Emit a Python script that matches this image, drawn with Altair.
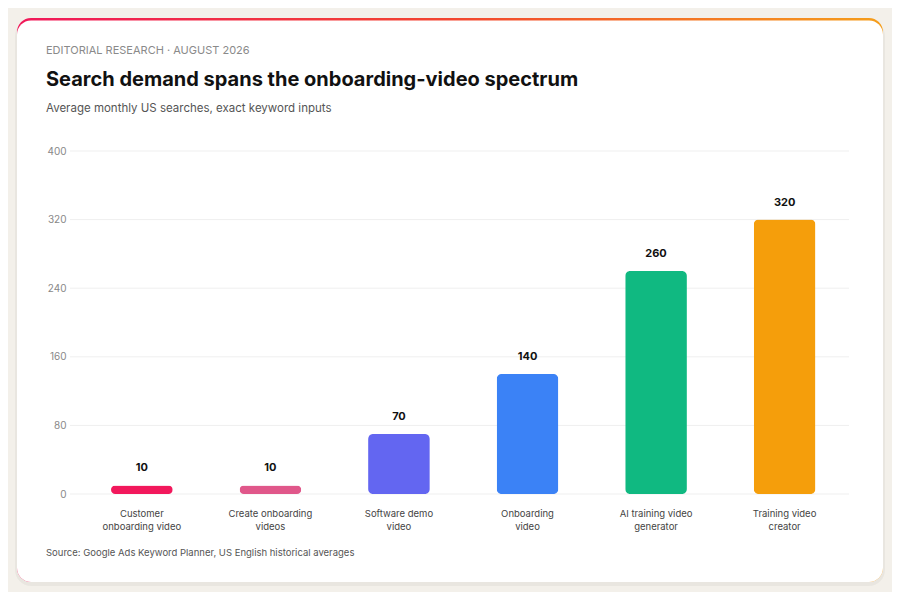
import altair as alt
import pandas as pd

# keyword labels, split the way the axis wraps them
label_lines = [
    ["Customer", "onboarding video"],
    ["Create onboarding", "videos"],
    ["Software demo", "video"],
    ["Onboarding", "video"],
    ["AI training video", "generator"],
    ["Training video", "creator"],
]
searches = [10, 10, 70, 140, 260, 320]
bar_colors = ["#f2185c", "#e0578a", "#6366f1", "#3b82f6", "#10b981", "#f59e0b"]
y_ticks = [0, 80, 160, 240, 320, 400]

eyebrow = "EDITORIAL RESEARCH \u00b7 AUGUST 2026"
headline = "Search demand spans the onboarding-video spectrum"
subhead = "Average monthly US searches, exact keyword inputs"
source = "Source: Google Ads Keyword Planner, US English historical averages"

FONT = "Inter"
keys = ["|".join(l) for l in label_lines]
df = pd.DataFrame({"key": keys, "searches": searches})
grid = pd.DataFrame({"tick": y_ticks})
one = pd.DataFrame({"a": [0]})

# card behind the plot (pixel offsets relative to the plot origin)
shadow = alt.Chart(one).mark_rect(color="#000000", opacity=0.04, cornerRadius=16).encode(
    x=alt.value(-55), x2=alt.value(815), y=alt.value(-131), y2=alt.value(435)
)
top_bar = alt.Chart(one).mark_rect(
    cornerRadius=14,
    color=alt.LinearGradient(
        gradient="linear",
        stops=[
            alt.GradientStop(color="#f0185a", offset=0),
            alt.GradientStop(color="#f2452f", offset=0.5),
            alt.GradientStop(color="#f59e1b", offset=1),
        ],
        x1=0, x2=1, y1=0, y2=0,
    ),
).encode(x=alt.value(-53), x2=alt.value(813), y=alt.value(-133), y2=alt.value(431))
card = alt.Chart(one).mark_rect(color="white", cornerRadius=14).encode(
    x=alt.value(-53), x2=alt.value(813), y=alt.value(-130.5), y2=alt.value(431)
)


def label(text, y, size, color, weight="normal"):
    return alt.Chart(one).mark_text(
        text=text, align="left", baseline="middle", font=FONT,
        fontSize=size, color=color, fontWeight=weight,
    ).encode(x=alt.value(-24), y=alt.value(y))


texts = (
    label(eyebrow, -100, 11, "#8a8a8a")
    + label(headline, -71, 20, "#111111", "bold")
    + label(subhead, -42, 11.5, "#555555")
    + label(source, 402, 9.5, "#555555")
)

gridlines = alt.Chart(grid).mark_rule(color="#efefef", strokeWidth=1).encode(
    y=alt.Y("tick:Q", title=None)
)

x_enc = alt.X(
    "key:N",
    sort=keys,
    title=None,
    scale=alt.Scale(paddingInner=0.52, paddingOuter=0.29, align=0.55),
    axis=alt.Axis(
        labelExpr="split(datum.label, '|')",
        labelAngle=0,
        labelColor="#444444",
        labelFont=FONT,
        labelFontSize=9.5,
        labelLineHeight=13,
        labelPadding=14,
        domain=False,
        ticks=False,
        zindex=1,
    ),
)
y_enc = alt.Y(
    "searches:Q",
    title=None,
    scale=alt.Scale(domain=[0, 400], nice=False),
    axis=alt.Axis(
        values=y_ticks,
        grid=False,
        domain=False,
        ticks=False,
        labelColor="#888888",
        labelFont=FONT,
        labelFontSize=10,
        labelPadding=4,
        zindex=1,
    ),
)

bars = alt.Chart(df).mark_bar(cornerRadius=5).encode(
    x=x_enc,
    y=y_enc,
    color=alt.Color("key:N", scale=alt.Scale(domain=keys, range=bar_colors), legend=None),
)
values = alt.Chart(df).mark_text(
    font=FONT, fontSize=11, fontWeight="bold", color="#111111", baseline="middle", dy=-17
).encode(x=x_enc, y=y_enc, text="searches:Q")

chart = alt.layer(
    shadow, top_bar, card, texts, gridlines, bars, values
).properties(
    width=779,
    height=343,
    background="#f3f0ea",
    autosize=alt.AutoSizeParams(type="none"),
    padding={"left": 62, "top": 143, "right": 43, "bottom": 98},
).configure_view(
    strokeWidth=0
)

chart.save("out.html", embed_options={"renderer": "svg", "actions": False})
